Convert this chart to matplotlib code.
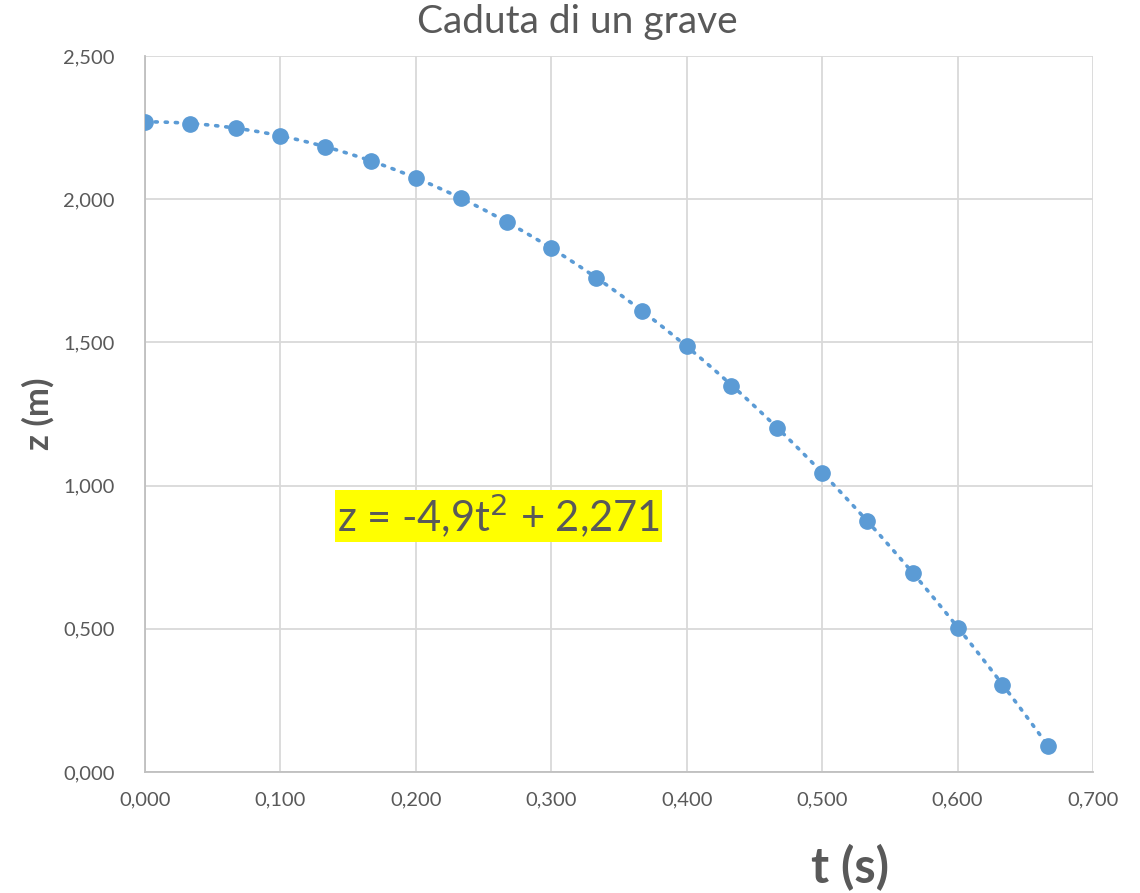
#!/usr/bin/env python3
"""Caduta di un grave: posizione z in funzione del tempo con trendline quadratica."""
import matplotlib
matplotlib.use("Agg")
import matplotlib.pyplot as plt
import numpy as np
from matplotlib.ticker import FuncFormatter, MultipleLocator

BLUE, INK, GRID = "#5b9bd5", "#595959", "#d9d9d9"

# tempi (s), un fotogramma ogni 1/30 s
t = [0.000, 0.033, 0.067, 0.100, 0.133, 0.167, 0.200, 0.233, 0.267, 0.300, 0.333,
     0.367, 0.400, 0.433, 0.467, 0.500, 0.533, 0.567, 0.600, 0.633, 0.667]
# quote (m)
z = [2.270, 2.264, 2.249, 2.221, 2.183, 2.134, 2.074, 2.004, 1.921, 1.830, 1.726,
     1.611, 1.486, 1.349, 1.202, 1.045, 0.877, 0.696, 0.504, 0.305, 0.092]
equation = "z = -4,9t$^2$ + 2,271"

plt.rcParams["font.family"] = ["Lato", "DejaVu Sans"]

fig = plt.figure(figsize=(11.4, 8.93), dpi=100)
ax = fig.add_axes([0.1272, 0.1355, 0.8316, 0.8018])

coef = np.polyfit(t, z, 2)
tt = np.linspace(min(t), max(t), 200)
ax.plot(tt, np.polyval(coef, tt), color=BLUE, linewidth=2.6,
        linestyle=(0, (0.6, 2.2)), dash_capstyle="round", zorder=2)
ax.plot(t, z, "o", color=BLUE, markersize=11, zorder=3)

ax.set_xlim(0, 0.7)
ax.set_ylim(0, 2.5)
ax.xaxis.set_major_locator(MultipleLocator(0.1))
ax.yaxis.set_major_locator(MultipleLocator(0.5))
fmt = FuncFormatter(lambda v, _: f"{v:.3f}".replace(".", ","))
ax.xaxis.set_major_formatter(fmt)
ax.yaxis.set_major_formatter(fmt)
ax.grid(True, color=GRID, linewidth=1.3)
ax.set_axisbelow(True)
for side in ("top", "right"):
    ax.spines[side].set_visible(False)
for side in ("left", "bottom"):
    ax.spines[side].set_color("#bfbfbf")
    ax.spines[side].set_linewidth(1.3)
ax.tick_params(length=0, colors=INK, labelsize=14.5)
ax.tick_params(axis="y", pad=22)
ax.tick_params(axis="x", pad=14)

fig.suptitle("Caduta di un grave", color=INK, fontsize=28, x=0.506, y=0.995)
ax.set_xlabel("t (s)", color=INK, fontsize=35, fontweight="bold")
ax.xaxis.set_label_coords(0.744, -0.10)
ax.set_ylabel("z (m)", color=INK, fontsize=25, fontweight="bold")
ax.yaxis.set_label_coords(-0.095, 0.5)

ax.text(0.142, 0.894, equation, color=INK, fontsize=30, va="center", ha="left",
        bbox=dict(facecolor="#ffff00", edgecolor="none", pad=1.5))

fig.savefig("out.png", dpi=100, facecolor="white")
